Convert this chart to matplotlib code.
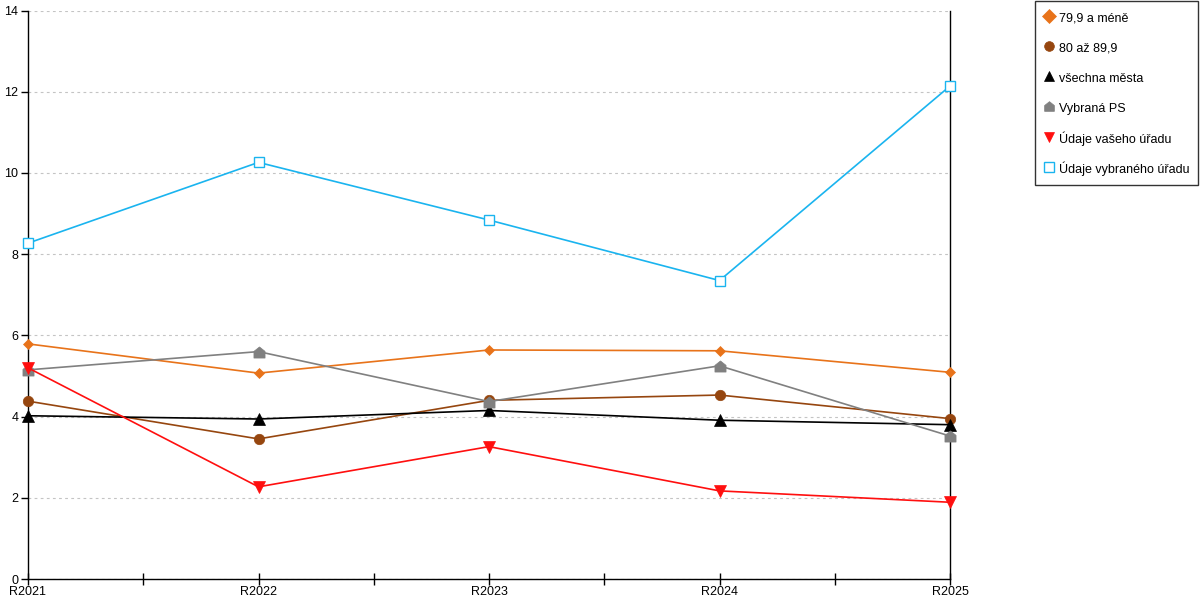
import numpy as np
import matplotlib.pyplot as plt
from matplotlib.path import Path

plt.rcParams['font.family'] = ['Liberation Sans', 'DejaVu Sans']

years = ['R2021', 'R2022', 'R2023', 'R2024', 'R2025']

# hodnoty
do_79_9 = [5.79, 5.07, 5.64, 5.62, 5.09]
od_80_do_89_9 = [4.38, 3.45, 4.40, 4.53, 3.95]
vsechna_mesta = [4.02, 3.94, 4.15, 3.91, 3.80]
vybrana_ps = [5.15, 5.60, 4.37, 5.25, 3.52]
vas_urad = [5.20, 2.27, 3.26, 2.17, 1.89]
vybrany_urad = [8.27, 10.26, 8.84, 7.35, 12.14]

# "domeček" marker pro Vybraná PS
house = Path([(-1, -1), (1, -1), (1, 0.2), (0, 1), (-1, 0.2), (-1, -1)],
             [Path.MOVETO, Path.LINETO, Path.LINETO, Path.LINETO, Path.LINETO, Path.CLOSEPOLY])

series = [
    ('79,9 a méně', do_79_9, '#e8731a', 'D', 5.5),
    ('80 až 89,9', od_80_do_89_9, '#96460f', 'o', 7.5),
    ('všechna města', vsechna_mesta, '#000000', '^', 8),
    ('Vybraná PS', vybrana_ps, '#808080', house, 8),
    ('Údaje vašeho úřadu', vas_urad, '#ff0f0f', 'v', 8),
    ('Údaje vybraného úřadu', vybrany_urad, '#1ab4ef', 's', 7.5),
]

fig = plt.figure(figsize=(12, 6), dpi=100)
ax = fig.add_axes([28 / 1200, 21 / 600, 922 / 1200, 568.5 / 600])

x = np.arange(len(years))
for name, vals, col, mk, ms in series:
    if mk == 's':
        ax.plot(x, vals, color=col, lw=1.2, marker=mk, ms=ms,
                mfc='white', mec=col, mew=1.0, label=name, clip_on=False, zorder=3)
    else:
        ax.plot(x, vals, color=col, lw=1.2, marker=mk, ms=ms,
                mfc=col, mec=col, mew=0.5, label=name, clip_on=False, zorder=3)

ax.set_xlim(0, 4)
ax.set_ylim(0, 14)
ax.set_yticks(np.arange(0, 15, 2))
ax.set_xticks(x)
ax.set_xticklabels(years)
ax.set_xticks(np.arange(0.5, 4, 1), minor=True)
ax.tick_params(axis='x', which='both', direction='inout', length=8, width=1, labelsize=9, pad=1)
ax.tick_params(axis='y', direction='out', length=5, width=1, labelsize=9, pad=2)
ax.grid(axis='y', color='#c4c4c4', linestyle=(0, (2.5, 3)), lw=0.8)
ax.set_axisbelow(True)

ax.spines['top'].set_visible(False)
for s in ['left', 'right', 'bottom']:
    ax.spines[s].set_color('black')
    ax.spines[s].set_linewidth(1)

leg = fig.legend(loc='upper left', bbox_to_anchor=(1035 / 1200, 1 - 1 / 600),
                 frameon=True, fancybox=False, edgecolor='black',
                 fontsize=9, handlelength=0.8, handleheight=1.5, handletextpad=0.4,
                 labelspacing=1.2, borderpad=0.7, borderaxespad=0)
leg.get_frame().set_linewidth(1)
for h in leg.get_lines():
    h.set_linestyle('none')
    h.set_markersize(7)

fig.savefig('out.png', dpi=100)
